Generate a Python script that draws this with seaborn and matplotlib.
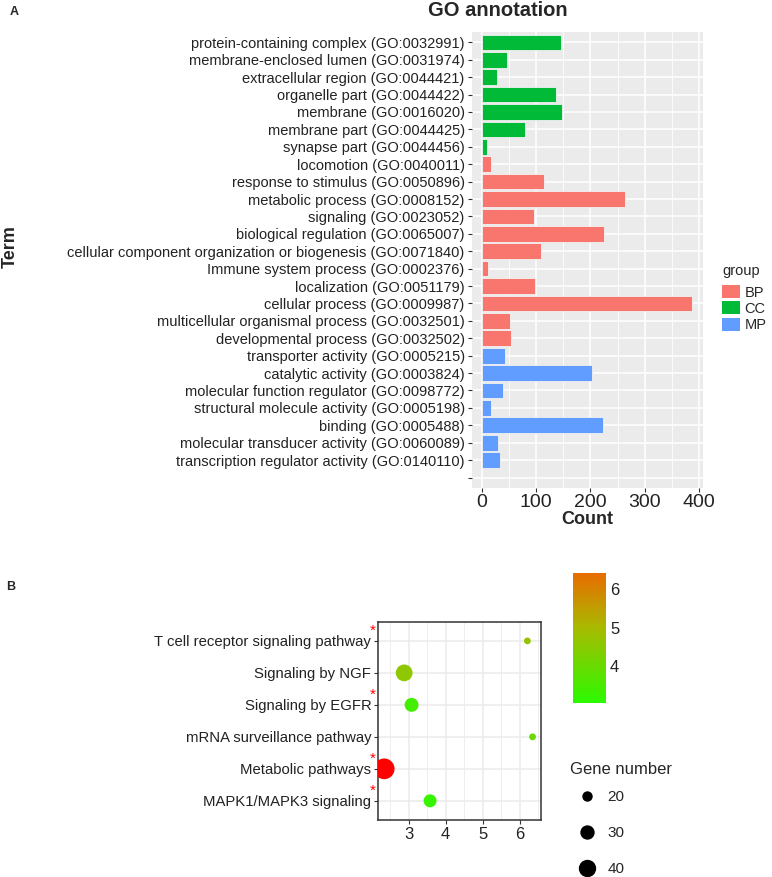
import numpy as np
import pandas as pd
import matplotlib
matplotlib.use('Agg')
import matplotlib.pyplot as plt
import seaborn as sns
from matplotlib.colors import LinearSegmentedColormap, Normalize
from matplotlib.cm import ScalarMappable
from matplotlib.patches import Patch
from matplotlib.lines import Line2D

# ---- panel A data: GO annotation ----
terms = [
    "protein-containing complex (GO:0032991)",
    "membrane-enclosed lumen (GO:0031974)",
    "extracellular region (GO:0044421)",
    "organelle part (GO:0044422)",
    "membrane (GO:0016020)",
    "membrane part (GO:0044425)",
    "synapse part (GO:0044456)",
    "locomotion (GO:0040011)",
    "response to stimulus (GO:0050896)",
    "metabolic process (GO:0008152)",
    "signaling (GO:0023052)",
    "biological regulation (GO:0065007)",
    "cellular component organization or biogenesis (GO:0071840)",
    "Immune system process (GO:0002376)",
    "localization (GO:0051179)",
    "cellular process (GO:0009987)",
    "multicellular organismal process (GO:0032501)",
    "developmental process (GO:0032502)",
    "transporter activity (GO:0005215)",
    "catalytic activity (GO:0003824)",
    "molecular function regulator (GO:0098772)",
    "structural molecule activity (GO:0005198)",
    "binding (GO:0005488)",
    "molecular transducer activity (GO:0060089)",
    "transcription regulator activity (GO:0140110)",
]
counts = [145, 46, 28, 136, 147, 80, 10,
          16, 115, 263, 95, 225, 109, 11, 98, 388, 51, 54,
          42, 203, 38, 16, 223, 30, 34]
groups = ["CC"] * 7 + ["BP"] * 11 + ["MP"] * 7
group_colors = {"BP": "#F8766D", "CC": "#00BA38", "MP": "#619CFF"}

# ---- panel B data: pathway enrichment ----
pathways = ["T cell receptor signaling pathway", "Signaling by NGF",
            "Signaling by EGFR", "mRNA surveillance pathway",
            "Metabolic pathways", "MAPK1/MAPK3 signaling"]
enrichment = [6.21, 2.88, 3.08, 6.35, 2.34, 3.58]
neg_log_p = [4.7, 4.6, 3.4, 4.0, 8.0, 3.2]
gene_number = [16, 43, 33, 16, 60, 30]
starred = [True, False, True, False, True, True]

sns.set_theme(style="white")
plt.rcParams['font.family'] = ['Liberation Sans', 'DejaVu Sans']

fig = plt.figure(figsize=(7.72, 8.77), dpi=100)

# ================= Panel A =================
df = pd.DataFrame({"Term": terms, "Count": counts, "group": groups})
ax = fig.add_axes([0.611, 0.4436, 0.300, 0.520])
ax.set_facecolor("#EBEBEB")
sns.barplot(data=df, x="Count", y="Term", hue="group", palette=group_colors,
            dodge=False, width=0.9, legend=False, saturation=1,
            edgecolor="#F2F2F2", linewidth=0.6, ax=ax, zorder=3)
ax.set_xlim(-19, 408)
ax.set_ylim(25.6, -0.6)
ax.set_yticks(range(len(terms) + 1))
ax.set_yticklabels(terms + [""], fontsize=10.5, color="#222222")
ax.set_xticks([0, 100, 200, 300, 400])
ax.set_xticks([50, 150, 250, 350], minor=True)
ax.tick_params(axis="x", labelsize=14, color="#333333", length=3, width=0.8,
               pad=1, bottom=True, labelcolor="#222222")
ax.tick_params(axis="y", color="#333333", length=3, width=0.8, pad=2, left=True)
ax.grid(True, which="major", color="white", linewidth=1.1, zorder=0)
ax.grid(True, which="minor", axis="x", color="white", linewidth=0.6, zorder=0)
ax.set_axisbelow(True)
for s in ax.spines.values():
    s.set_visible(False)
ax.set_xlabel("Count", fontsize=13, fontweight="bold", labelpad=0)
ax.set_ylabel("")

fig.text(0.013, 0.719, "Term", rotation=90, fontsize=13,
         fontweight="bold", ha="center", va="center")
fig.text(0.645, 0.988, "GO annotation", fontsize=14.5, fontweight="bold",
         ha="center", va="center")
fig.text(0.013, 0.986, "A", fontsize=9, fontweight="bold", ha="left", va="center")

# group legend
fig.text(722 / 772, 1 - 271 / 877, "group", fontsize=10.5, ha="left", va="center")
handles = [Patch(facecolor=group_colors[g], edgecolor="none") for g in ["BP", "CC", "MP"]]
fig.legend(handles, ["BP", "CC", "MP"], loc="upper left",
           bbox_to_anchor=(722 / 772, 1 - 285 / 877), frameon=False, fontsize=10.5,
           handlelength=1.2, handleheight=1.0, labelspacing=0.12,
           handletextpad=0.35, borderaxespad=0, borderpad=0)

# ================= Panel B =================
cmap = LinearSegmentedColormap.from_list(
    "gr", [(0.0, "#2BFA00"), (0.58, "#A8BA00"), (1.0, "#E86C00")])
cmap.set_over("#FF0000")
norm = Normalize(3.03, 6.41)


def area(v):
    return -48 + 4.5 * v


dfb = pd.DataFrame({"pathway": pathways, "enrichment": enrichment,
                    "neg_log_p": neg_log_p, "genes": gene_number})
axb = fig.add_axes([0.490, 0.065, 0.2104, 0.2261])
sns.scatterplot(data=dfb, x="enrichment", y="pathway", hue="neg_log_p",
                size="genes", palette=cmap, hue_norm=norm,
                sizes=(area(min(gene_number)), area(max(gene_number))),
                size_norm=(min(gene_number), max(gene_number)),
                linewidth=0, legend=False, ax=axb, zorder=3)
axb.set_xlim(2.18, 6.57)
axb.set_ylim(len(pathways) - 0.4, -0.6)
axb.set_xticks([3, 4, 5, 6])
axb.set_xticks([2.5, 3.5, 4.5, 5.5, 6.5], minor=True)
axb.grid(True, which="major", color="#EBEBEB", linewidth=1.1)
axb.grid(True, which="minor", axis="x", color="#EBEBEB", linewidth=0.6)
axb.set_axisbelow(True)
for s in axb.spines.values():
    s.set_color("#333333")
    s.set_linewidth(1.1)
axb.tick_params(axis="x", labelsize=12, color="#333333", length=3, width=0.8,
                bottom=True, pad=2, labelcolor="#222222")
axb.tick_params(axis="y", labelsize=10.7, color="#333333", length=3, width=0.8,
                left=True, pad=2, labelcolor="#222222")
axb.set_xlabel("")
axb.set_ylabel("")
for i, st in enumerate(starred):
    if st:
        axb.annotate("*", xy=(0, i), xycoords=axb.get_yaxis_transform(),
                     xytext=(-4, 7.5), textcoords="offset points", color="red",
                     fontsize=11, ha="center", va="center")

fig.text(0.008, 0.331, "B", fontsize=9, fontweight="bold", ha="left", va="center")

# colorbar
cax = fig.add_axes([0.7418, 0.198, 0.0431, 0.1482])
cb = fig.colorbar(ScalarMappable(norm=norm, cmap=cmap), cax=cax, ticks=[4, 5, 6])
cb.outline.set_visible(False)
cax.yaxis.set_ticks_position("both")
cax.tick_params(axis="y", colors="white", direction="in", length=5, width=1,
                labelsize=12, labelcolor="#222222", right=True, left=True,
                labelleft=False, labelright=True, pad=3)

# gene number legend
fig.text(570 / 772, 1 - 770 / 877, "Gene number", fontsize=12, ha="left", va="center")
size_vals = [20, 30, 40]
size_handles = [Line2D([], [], marker="o", linestyle="", color="black",
                       markersize=np.sqrt(area(v))) for v in size_vals]
fig.legend(size_handles, [str(v) for v in size_vals],
           loc="upper left", bbox_to_anchor=(572 / 772, 1 - 790 / 877),
           frameon=False, fontsize=11, labelspacing=1.45, handletextpad=0.3,
           borderaxespad=0, borderpad=0)

fig.savefig("out.png", dpi=100)
